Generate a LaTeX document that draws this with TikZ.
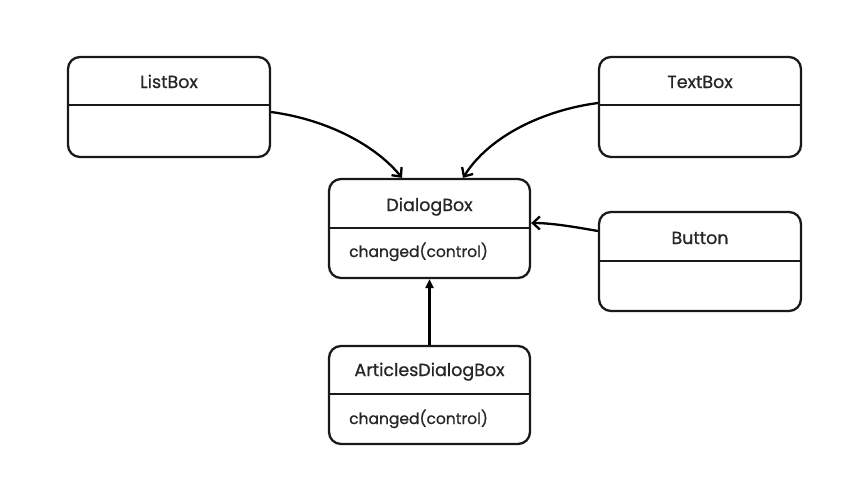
\documentclass[tikz,border=0pt]{standalone}
\usepackage{fontspec}
\setmainfont{Poppins}
\newfontfamily\popm{Poppins}[FakeBold=0.8]
\usetikzlibrary{arrows.meta}
\begin{document}
\begin{tikzpicture}[x=1pt,y=-1pt,
  umlbox/.style={draw=black!90, line width=2.3pt, rounded corners=12pt, minimum width=202pt, minimum height=100pt, inner sep=0pt},
  divider/.style={draw=black!90, line width=2.3pt},
  title/.style={font=\popm\fontsize{17.5}{20}\selectfont, text=black!85, inner sep=0pt, anchor=base},
  op/.style={font=\popm\fontsize{15.5}{20}\selectfont, text=black!85, inner sep=0pt, anchor=base west},
  assoc/.style={line width=2.3pt, -{Straight Barb[length=7pt,width=13pt,line width=2.3pt]}},
  gen/.style={line width=2.3pt, -{Triangle[length=9pt,width=8pt]}}]
\useasboundingbox (0,0) rectangle (855,496);
% boxes
\node[umlbox] (list) at (169,107) {};
\node[umlbox] (text) at (700,107) {};
\node[umlbox, minimum width=201pt, minimum height=99pt] (dialog) at (429.5,228.5) {};
\node[umlbox, minimum width=202pt, minimum height=99pt] (button) at (700,261.5) {};
\node[umlbox, minimum width=201pt, minimum height=98pt] (articles) at (429.5,395) {};
% dividers
\draw[divider] ([yshift=-49pt]list.north west) -- ([yshift=-49pt]list.north east);
\draw[divider] ([yshift=-49pt]text.north west) -- ([yshift=-49pt]text.north east);
\draw[divider] ([yshift=-50pt]dialog.north west) -- ([yshift=-50pt]dialog.north east);
\draw[divider] ([yshift=-50pt]button.north west) -- ([yshift=-50pt]button.north east);
\draw[divider] ([yshift=-49pt]articles.north west) -- ([yshift=-49pt]articles.north east);
% texts
\node[title] (tlist) at (169,88) {ListBox};
\node[title] (ttext) at (700,88) {TextBox};
\node[title] (tdialog) at (429.5,211) {DialogBox};
\node[title] (tbutton) at (700,244) {Button};
\node[title] (tarticles) at (429.5,376) {ArticlesDialogBox};
\node[op] (odialog) at (349,257) {changed(control)};
\node[op] (oarticles) at (349,424) {changed(control)};
% connectors
\coordinate (ls) at ([yshift=-5pt]list.east);
\coordinate (le) at ([xshift=-27.5pt]dialog.north);
\coordinate (ts) at ([yshift=4pt]text.west);
\coordinate (te) at ([xshift=33.5pt]dialog.north);
\coordinate (bs) at ([yshift=30.5pt]button.west);
\coordinate (be) at ([yshift=5.5pt]dialog.east);
\draw[assoc] (ls) .. controls (330,120) and (377,147) .. (le);
\draw[assoc] (ts) .. controls (545,110) and (490,135) .. (te);
\draw[assoc] (bs) .. controls (575,227) and (552,223) .. (be);
\draw[gen] (articles.north) -- (dialog.south);
\end{tikzpicture}
\end{document}
